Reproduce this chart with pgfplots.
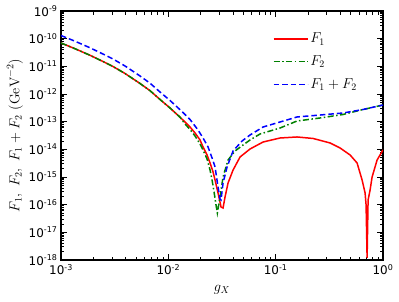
\documentclass[border=0pt]{standalone}
\usepackage{fontspec}
\usepackage{pgfplots}
\pgfplotsset{compat=1.18}
\newfontfamily\dejavu{DejaVu Sans}
\definecolor{mplred}{rgb}{1,0,0}
\definecolor{mplgreen}{rgb}{0,0.5,0}
\definecolor{mplblue}{rgb}{0,0,1}
\tikzset{
  redstyle/.style={mplred, line width=1.5bp, solid},
  greenstyle/.style={mplgreen, line width=1.5bp, dash pattern=on 6bp off 2.5bp on 1.5bp off 2.5bp},
  bluestyle/.style={mplblue, line width=1.5bp, dash pattern=on 5.5bp off 3bp},
}
\begin{document}
\begin{tikzpicture}
\useasboundingbox (-61bp,-42bp) rectangle (338bp,260bp);
\begin{axis}[
  scale only axis,
  width=322bp, height=249bp,
  xmode=log, ymode=log,
  xmin=1e-3, xmax=1, ymin=1e-18, ymax=1e-9,
  xtick={1e-3,1e-2,1e-1,1},
  xticklabels={10\textsuperscript{-3},10\textsuperscript{-2},10\textsuperscript{-1},10\textsuperscript{0}},
  ytick={1e-18,1e-17,1e-16,1e-15,1e-14,1e-13,1e-12,1e-11,1e-10,1e-9},
  yticklabels={10\textsuperscript{-18},10\textsuperscript{-17},10\textsuperscript{-16},10\textsuperscript{-15},10\textsuperscript{-14},10\textsuperscript{-13},10\textsuperscript{-12},10\textsuperscript{-11},10\textsuperscript{-10},10\textsuperscript{-9}},
  tick label style={font=\dejavu\fontsize{12}{14}\selectfont},
  xticklabel style={yshift=-1bp},
  tick align=inside,
  major tick length=6bp, minor tick length=3.5bp,
  every tick/.style={black, line width=0.9bp},
  axis line style={line width=1.2bp},
  xlabel={$g_X$},
  ylabel={$F_1,\ F_2,\ F_1+F_2\ (\mathrm{GeV}^{-2})$},
  label style={font=\fontsize{14}{16}\selectfont},
  xlabel style={at={(axis description cs:0.5,-0.12)}, anchor=center},
  ylabel style={at={(axis description cs:-0.143,0.5)}, anchor=center},
  legend style={draw=none, fill=none, at={(axis description cs:0.648,0.928)}, anchor=north west, font=\fontsize{14}{16}\selectfont, row sep=7.5bp},
  legend cell align=left,
]
\addlegendimage{legend image code/.code={\draw[redstyle] (0bp,0bp) -- (34bp,0bp);}}
\addlegendentry{$F_1$}
\addlegendimage{legend image code/.code={\draw[greenstyle] (0bp,0bp) -- (34bp,0bp);}}
\addlegendentry{$F_2$}
\addlegendimage{legend image code/.code={\draw[bluestyle] (0bp,0bp) -- (34bp,0bp);}}
\addlegendentry{$F_1+F_2$}
\addplot[redstyle, forget plot] coordinates {
(1.000e-3,6.98e-11) (1.350e-3,4.34e-11) (1.864e-3,2.51e-11) (2.571e-3,1.38e-11)
(3.052e-3,9.87e-12) (3.949e-3,5.51e-12) (5.449e-3,2.40e-12) (6.752e-3,1.32e-12)
(8.369e-3,6.33e-13) (1.037e-2,3.12e-13) (1.285e-2,1.45e-13) (1.431e-2,9.74e-14)
(1.593e-2,6.42e-14) (1.774e-2,3.90e-14) (1.975e-2,2.18e-14) (2.106e-2,1.22e-14)
(2.295e-2,6.25e-15) (2.447e-2,3.21e-15) (2.610e-2,1.52e-15) (2.724e-2,7.80e-16)
(2.905e-2,2.65e-16) (3.098e-2,8.25e-17) (3.234e-2,7.59e-17) (3.376e-2,1.90e-16)
(3.601e-2,6.08e-16) (4.009e-2,1.79e-15) (4.659e-2,5.29e-15) (5.773e-2,1.03e-14)
(7.630e-2,1.84e-14) (0.1099,2.57e-14) (0.1583,2.80e-14) (0.2232,2.47e-14)
(0.3214,1.70e-14) (0.3983,1.12e-14) (0.4936,6.25e-15) (0.5736,3.21e-15)
(0.6386,7.80e-16) (0.6810,2.65e-16) (0.6958,9.74e-17) (0.7110,1.2e-18)
(0.7263,1.48e-16) (0.7584,3.40e-16) (0.7915,1.00e-15) (0.8810,4.12e-15)
(1.0,9.47e-15)
};
\addplot[greenstyle, forget plot] coordinates {
(1.000e-3,6.98e-11) (1.350e-3,4.34e-11) (1.864e-3,2.51e-11) (2.571e-3,1.38e-11)
(3.052e-3,9.87e-12) (3.949e-3,5.51e-12) (5.449e-3,2.40e-12) (6.752e-3,1.32e-12)
(8.369e-3,6.33e-13) (1.037e-2,3.12e-13) (1.285e-2,1.45e-13) (1.431e-2,8.24e-14)
(1.593e-2,5.22e-14) (1.774e-2,3.04e-14) (1.975e-2,1.56e-14) (2.106e-2,9.47e-15)
(2.295e-2,4.48e-15) (2.447e-2,1.79e-15) (2.555e-2,7.80e-16) (2.667e-2,2.87e-16)
(2.783e-2,9.74e-17) (2.862e-2,5.01e-17) (2.968e-2,1.15e-16) (3.032e-2,1.90e-16)
(3.234e-2,1.00e-15) (3.601e-2,4.12e-15) (4.185e-2,8.72e-15) (4.969e-2,1.44e-14)
(5.773e-2,2.18e-14) (7.154e-2,3.59e-14) (0.1099,5.91e-14) (0.1583,1.06e-13)
(0.2593,1.36e-13) (0.4248,1.82e-13) (0.6524,2.755e-13) (1.0,4.01e-13)
};
\addplot[bluestyle, forget plot] coordinates {
(1.000e-3,1.302e-10) (1.350e-3,8.10e-11) (1.864e-3,4.68e-11) (2.571e-3,2.57e-11)
(3.052e-3,1.84e-11) (3.949e-3,1.03e-11) (5.449e-3,4.48e-12) (6.752e-3,2.46e-12)
(8.369e-3,1.18e-12) (1.037e-2,5.83e-13) (1.285e-2,2.71e-13) (1.431e-2,1.82e-13)
(1.593e-2,1.20e-13) (1.892e-2,5.00e-14) (2.106e-2,2.57e-14) (2.344e-2,1.22e-14)
(2.555e-2,4.87e-15) (2.724e-2,2.30e-15) (2.905e-2,4.36e-16) (3.032e-2,1.61e-16)
(3.098e-2,1.48e-16) (3.234e-2,6.08e-16) (3.524e-2,2.30e-15) (4.009e-2,8.72e-15)
(4.864e-2,2.00e-14) (5.773e-2,3.30e-14) (7.630e-2,6.42e-14) (0.1099,9.74e-14)
(0.1583,1.48e-13) (0.2593,1.74e-13) (0.4248,2.06e-13) (0.6524,2.755e-13)
(1.0,4.01e-13)
};
\end{axis}
\end{tikzpicture}
\end{document}
